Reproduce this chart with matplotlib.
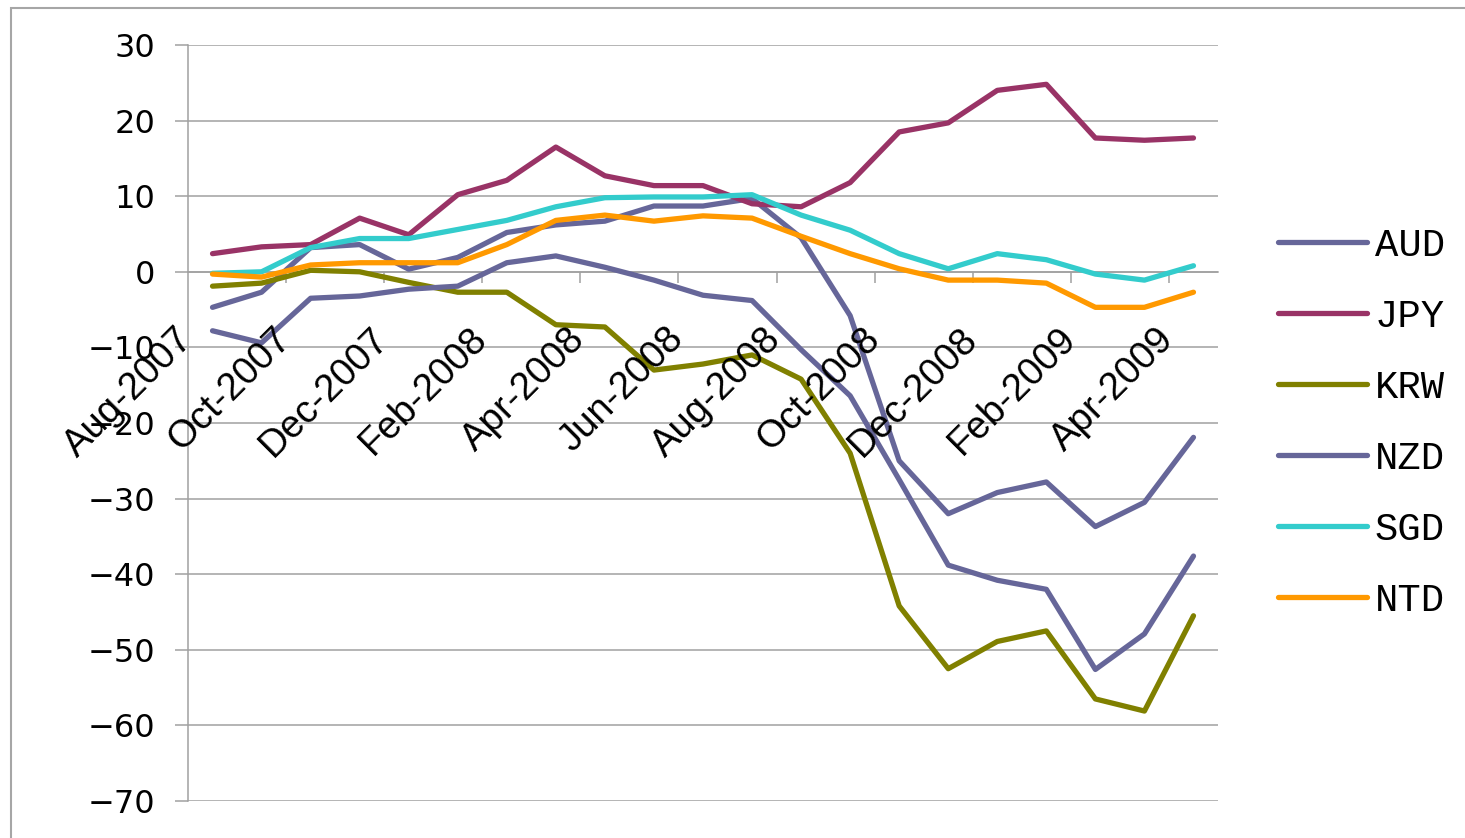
import numpy as np
import matplotlib
matplotlib.use("Agg")
import matplotlib.pyplot as plt
from matplotlib.transforms import ScaledTranslation
from matplotlib.patches import Rectangle

months = ["Aug-2007", "Sep-2007", "Oct-2007", "Nov-2007", "Dec-2007",
          "Jan-2008", "Feb-2008", "Mar-2008", "Apr-2008", "May-2008",
          "Jun-2008", "Jul-2008", "Aug-2008", "Sep-2008", "Oct-2008",
          "Nov-2008", "Dec-2008", "Jan-2009", "Feb-2009", "Mar-2009",
          "Apr-2009"]

aud = [-4.7, -2.7, 3.2, 3.6, 0.35, 1.9, 5.2, 6.2, 6.7, 8.7, 8.7, 9.7, 4.5,
       -5.8, -25.0, -32.0, -29.2, -27.8, -33.7, -30.5, -21.9]
jpy = [2.4, 3.3, 3.6, 7.1, 4.9, 10.2, 12.1, 16.5, 12.7, 11.4, 11.4, 9.0, 8.6,
       11.8, 18.5, 19.7, 24.0, 24.8, 17.7, 17.4, 17.7]
krw = [-1.9, -1.5, 0.2, 0.0, -1.4, -2.7, -2.7, -7.0, -7.3, -13.0, -12.2,
       -11.0, -14.2, -24.0, -44.2, -52.5, -48.9, -47.5, -56.5, -58.1, -45.5]
nzd = [-7.8, -9.4, -3.5, -3.2, -2.3, -1.9, 1.2, 2.1, 0.6, -1.1, -3.1, -3.8,
       -10.3, -16.4, -27.5, -38.8, -40.8, -42.0, -52.6, -47.9, -37.6]
sgd = [-0.2, 0.0, 3.2, 4.4, 4.4, 5.6, 6.8, 8.6, 9.8, 9.9, 9.9, 10.2, 7.5,
       5.5, 2.4, 0.4, 2.4, 1.6, -0.3, -1.1, 0.8]
ntd = [-0.3, -0.7, 0.9, 1.2, 1.2, 1.2, 3.6, 6.8, 7.5, 6.7, 7.4, 7.1, 4.7,
       2.4, 0.4, -1.1, -1.1, -1.5, -4.7, -4.7, -2.7]

series_names = ["AUD", "JPY", "KRW", "NZD", "SGD", "NTD"]
series_values = [aud, jpy, krw, nzd, sgd, ntd]
series_colors = ["#666699", "#993366", "#808000", "#666699", "#33CCCC", "#FF9900"]

y_ticks = list(range(-70, 31, 10))

W, H = 1465, 838
fig = plt.figure(figsize=(W / 100, H / 100), dpi=100)
ax = fig.add_axes([188 / W, 1 - 801 / H, (1218 - 188) / W, (801 - 45) / H])

x = np.arange(len(months))
for name, vals, col in zip(series_names, series_values, series_colors):
    ax.plot(x, vals, color=col, lw=3.8, label=name,
            solid_joinstyle="round", solid_capstyle="round", zorder=3)

grid_col = "#a0a0a0"
ax.set_xlim(-0.5, len(months) - 0.5)
ax.set_ylim(-70, 30)
ax.set_yticks(y_ticks)
ax.yaxis.grid(True, color=grid_col, lw=1.1)
ax.set_axisbelow(True)

for s in ["top", "right"]:
    ax.spines[s].set_visible(False)
ax.spines["left"].set_color(grid_col)
ax.spines["left"].set_linewidth(1.1)
ax.spines["bottom"].set_position(("data", 0))
ax.spines["bottom"].set_color(grid_col)
ax.spines["bottom"].set_linewidth(1.1)

ax.tick_params(axis="y", length=9.4, width=1.1, color=grid_col, pad=14,
               labelsize=23)

# category axis: ticks between every second category, labels drawn as text
ax.set_xticks([])
ax.set_xticks(np.arange(1.5, len(months) - 1, 2), minor=True)
ax.tick_params(axis="x", which="minor", length=8, width=1.1, color=grid_col,
               direction="out")
lab_off = ax.transData + ScaledTranslation(-38 / 100, -49 / 100,
                                           fig.dpi_scale_trans)
for xi, lab in zip(x[::2], months[::2]):
    ax.text(xi, 0, lab, transform=lab_off, rotation=45, ha="right",
            va="top", rotation_mode="anchor", fontfamily="Liberation Sans",
            fontsize=27.5, color="black", clip_on=False)

leg = ax.legend(loc="center left", bbox_to_anchor=(1278 / W, 1 - 423 / H),
                bbox_transform=fig.transFigure, frameon=False,
                prop={"family": "Liberation Mono", "size": 28},
                handlelength=2.29, handletextpad=0.2, labelspacing=0.9,
                borderpad=0, borderaxespad=0)
for line in leg.get_lines():
    line.set_linewidth(3.8)
    line.set_solid_capstyle("round")

fig.add_artist(Rectangle((11 / W, -0.5), 5, 0.5 + 1 - 8 / H,
                         transform=fig.transFigure, fill=False,
                         edgecolor="#a6a6a6", lw=1.5))

fig.savefig("out.png", dpi=100)
